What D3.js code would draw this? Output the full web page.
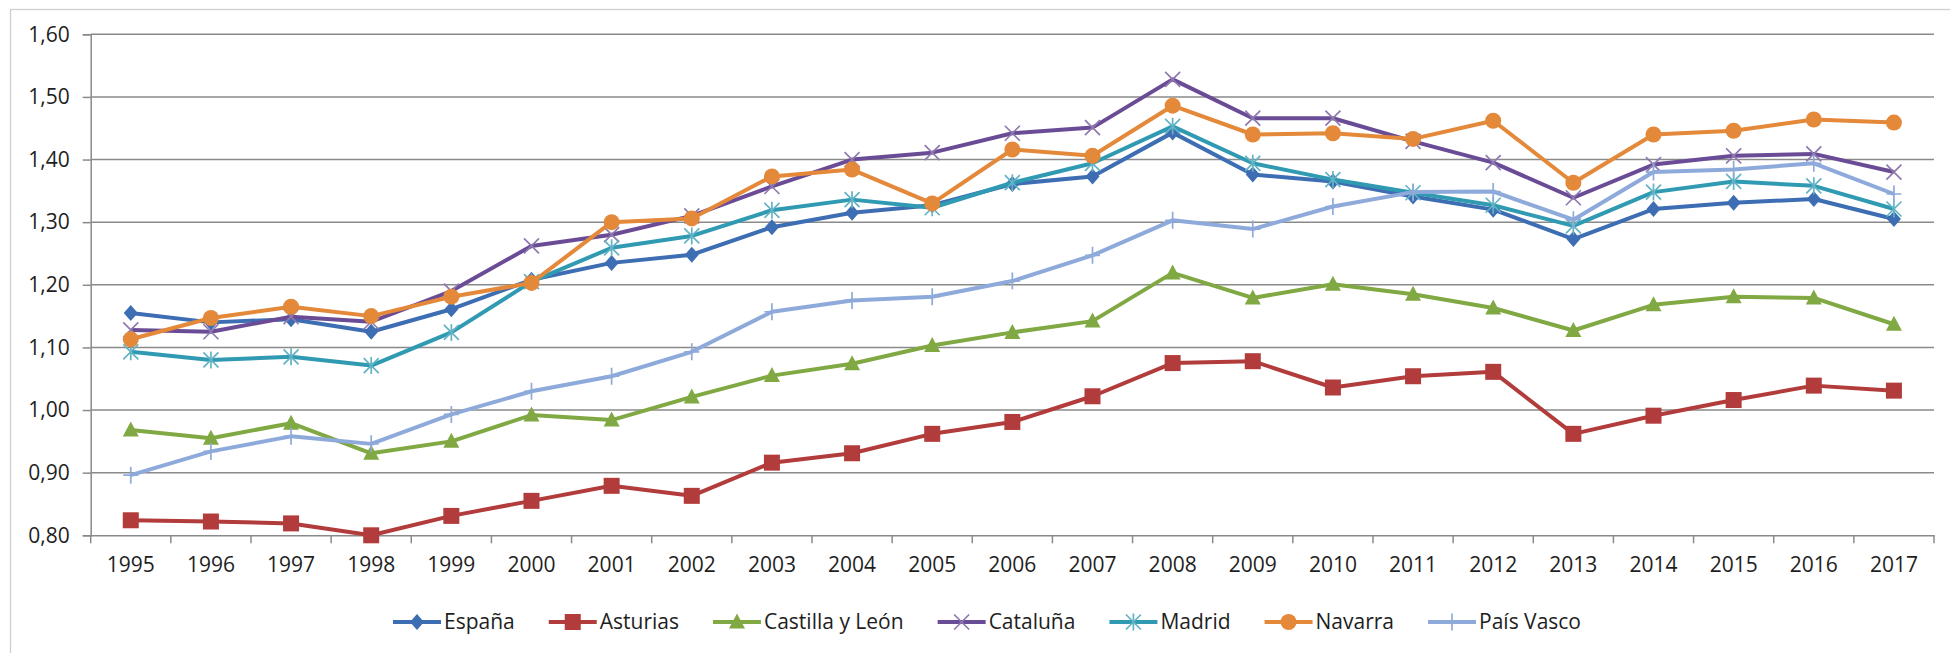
<!DOCTYPE html>
<html>
<head>
<meta charset="utf-8">
<script src="https://cdn.jsdelivr.net/npm/d3@7"></script>
<style>
  body { margin: 0; background: #fff; }
  svg text { font-family: "Open Sans", sans-serif; fill: #1e1e1e; }
</style>
</head>
<body>
<div id="chart"></div>
<script>
// years on the category axis
const years = ['1995','1996','1997','1998','1999','2000','2001','2002','2003','2004','2005','2006',
               '2007','2008','2009','2010','2011','2012','2013','2014','2015','2016','2017'];

// series values
const espana   = [1.155,1.140,1.145,1.125,1.161,1.208,1.235,1.248,1.292,1.315,1.327,1.361,1.373,1.443,1.376,1.365,1.341,1.320,1.273,1.321,1.331,1.337,1.305];
const asturias = [0.824,0.822,0.819,0.800,0.831,0.855,0.879,0.863,0.916,0.931,0.962,0.981,1.022,1.075,1.078,1.036,1.054,1.061,0.962,0.991,1.016,1.039,1.031];
const castilla = [0.968,0.955,0.979,0.931,0.950,0.992,0.984,1.021,1.055,1.074,1.103,1.124,1.142,1.219,1.179,1.201,1.185,1.163,1.127,1.168,1.181,1.179,1.137];
const cataluna = [1.128,1.125,1.149,1.141,1.190,1.262,1.280,1.310,1.357,1.400,1.411,1.442,1.451,1.528,1.466,1.466,1.429,1.395,1.339,1.392,1.406,1.409,1.380];
const madrid   = [1.093,1.080,1.085,1.071,1.124,1.205,1.259,1.278,1.319,1.336,1.323,1.363,1.394,1.453,1.394,1.368,1.347,1.327,1.294,1.348,1.365,1.358,1.321];
const navarra  = [1.113,1.147,1.165,1.150,1.181,1.203,1.300,1.306,1.373,1.384,1.330,1.416,1.406,1.486,1.440,1.442,1.433,1.462,1.363,1.440,1.446,1.464,1.459];
const paisVasco= [0.896,0.934,0.958,0.946,0.993,1.030,1.054,1.093,1.157,1.175,1.181,1.206,1.247,1.303,1.289,1.325,1.348,1.349,1.304,1.380,1.384,1.394,1.345];

// y tick values
const yTicks = [0.8,0.9,1.0,1.1,1.2,1.3,1.4,1.5,1.6];

const series = [
  {name: 'España',          values: espana,    color: '#3d6db2', mark: 'diamond'},
  {name: 'Asturias',        values: asturias,  color: '#b23c3b', mark: 'square'},
  {name: 'Castilla y León', values: castilla,  color: '#80a843', mark: 'triangle'},
  {name: 'Cataluña',        values: cataluna,  color: '#6a4c96', mark: 'cross'},
  {name: 'Madrid',          values: madrid,    color: '#2f9ab2', mark: 'star'},
  {name: 'Navarra',         values: navarra,   color: '#e4883a', mark: 'circle'},
  {name: 'País Vasco',      values: paisVasco, color: '#8eaadb', mark: 'plus'}
];

const width = 1950, height = 653;
const plot = {left: 90.7, right: 1934, top: 34.3, bottom: 535.3};

const svg = d3.select('#chart').append('svg')
    .attr('width', width)
    .attr('height', height);

// outer chart frame (only top / left edges visible in the picture)
svg.append('rect')
    .attr('x', 10.5).attr('y', 9.5)
    .attr('width', 2000).attr('height', 700)
    .attr('fill', 'none')
    .attr('stroke', '#cfcfcf')
    .attr('stroke-width', 1.3);

const x = d3.scaleBand().domain(years).range([plot.left, plot.right]);
const cx = d => x(d) + x.bandwidth() / 2;
const y = d3.scaleLinear().domain([0.8, 1.6]).range([plot.bottom, plot.top]);

const esLocale = d3.formatLocale({decimal: ',', thousands: '.', grouping: [3], currency: ['', '€']});
const fmt = esLocale.format('.2f');

// gridlines
svg.append('g')
    .selectAll('line')
    .data(yTicks.filter(d => d > 0.8))
    .join('line')
    .attr('x1', plot.left).attr('x2', plot.right)
    .attr('y1', d => y(d)).attr('y2', d => y(d))
    .attr('stroke', '#8a8a8a')
    .attr('stroke-width', 1.5);

// y axis
const yAxis = svg.append('g')
    .attr('transform', `translate(${plot.left},0)`)
    .call(d3.axisLeft(y).tickValues(yTicks).tickFormat(fmt).tickSize(8).tickPadding(13));
yAxis.select('.domain').attr('stroke', '#8a8a8a').attr('stroke-width', 1.5);
yAxis.selectAll('.tick line').attr('stroke', '#8a8a8a').attr('stroke-width', 1.5);
yAxis.selectAll('.tick text').style('font-size', '21px').attr('fill', '#1e1e1e');

// x axis: labels centered on categories, ticks on category boundaries
const xAxis = svg.append('g')
    .attr('transform', `translate(0,${plot.bottom})`)
    .call(d3.axisBottom(x).tickSize(0).tickPadding(22));
xAxis.select('.domain').attr('stroke', '#8a8a8a').attr('stroke-width', 1.5);
xAxis.selectAll('.tick text').style('font-size', '21px').attr('fill', '#1e1e1e');

const bounds = years.map(d => x(d)).concat([plot.right]);
svg.append('g')
    .selectAll('line')
    .data(bounds)
    .join('line')
    .attr('x1', d => d).attr('x2', d => d)
    .attr('y1', plot.bottom).attr('y2', plot.bottom + 8)
    .attr('stroke', '#8a8a8a')
    .attr('stroke-width', 1.5);

// marker drawing
function lighter(c) { return d3.interpolateRgb(c, '#ffffff')(0.25); }

function drawMarker(g, mark, color) {
  if (mark === 'diamond') {
    g.append('path').attr('d', 'M0,-8L7,0L0,8L-7,0Z').attr('fill', color);
  } else if (mark === 'square') {
    g.append('rect').attr('x', -8).attr('y', -8).attr('width', 16).attr('height', 16)
      .attr('fill', color);
  } else if (mark === 'triangle') {
    g.append('path').attr('d', 'M0,-8.5L8,6.5L-8,6.5Z').attr('fill', color);
  } else if (mark === 'circle') {
    g.append('circle').attr('r', 8).attr('fill', color);
  } else if (mark === 'cross') {
    g.append('path').attr('d', 'M-7.5,-7.5L7.5,7.5M-7.5,7.5L7.5,-7.5')
      .attr('stroke', lighter(color)).attr('stroke-width', 1.7).attr('fill', 'none');
  } else if (mark === 'star') {
    g.append('path').attr('d', 'M-7.5,-7.5L7.5,7.5M-7.5,7.5L7.5,-7.5M0,-8.5L0,8.5')
      .attr('stroke', lighter(color)).attr('stroke-width', 1.7).attr('fill', 'none');
  } else if (mark === 'plus') {
    g.append('path').attr('d', 'M0,-8.5L0,8.5M-7.5,0L7.5,0')
      .attr('stroke', color).attr('stroke-width', 1.7).attr('fill', 'none');
  }
}

const line = d3.line()
    .x((d, i) => cx(years[i]))
    .y(d => y(d));

// series, later ones drawn on top
series.forEach(s => {
  const g = svg.append('g').attr('class', 'series');
  g.append('path')
      .datum(s.values)
      .attr('d', line)
      .attr('fill', 'none')
      .attr('stroke', s.color)
      .attr('stroke-width', 4)
      .attr('stroke-linejoin', 'round');
  g.selectAll('g.mk')
      .data(s.values)
      .join('g')
      .attr('class', 'mk')
      .attr('transform', (d, i) => `translate(${cx(years[i])},${y(d)})`)
      .each(function() { drawMarker(d3.select(this), s.mark, s.color); });
});

// legend
const legend = svg.append('g').attr('class', 'legend');
const legendY = 622;
let lx = 0;
series.forEach(s => {
  const item = legend.append('g').attr('transform', `translate(${lx},${legendY})`);
  item.append('line')
      .attr('x1', 0).attr('x2', 48)
      .attr('stroke', s.color).attr('stroke-width', 4);
  drawMarker(item.append('g').attr('transform', 'translate(24,0)'), s.mark, s.color);
  const t = item.append('text')
      .attr('x', 51)
      .attr('dy', '0.35em')
      .style('font-size', '21px')
      .text(s.name);
  lx += 51 + t.node().getComputedTextLength() + 34;
});
const legendW = lx - 34;
legend.attr('transform', `translate(${987 - legendW / 2},0)`);
</script>
</body>
</html>
